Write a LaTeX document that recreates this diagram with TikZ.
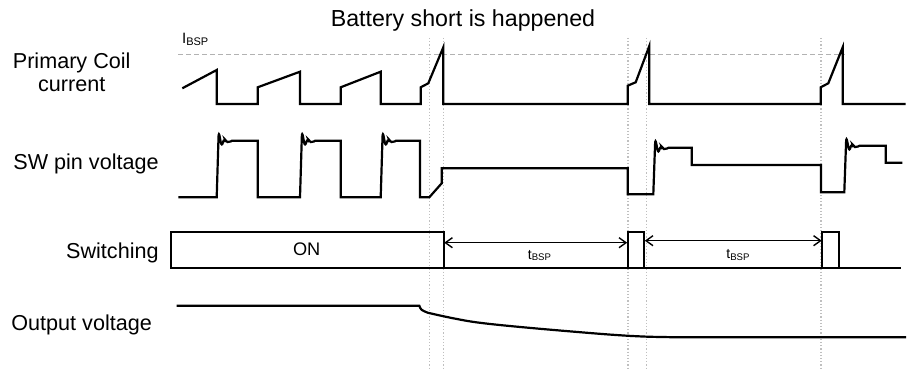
\documentclass[tikz,border=0pt]{standalone}
\usepackage{fontspec}
\setmainfont{Liberation Sans}
\usetikzlibrary{arrows.meta}

\newcommand{\bspsub}[1]{\raisebox{-.8pt}{\fontsize{#1}{#1}\selectfont BSP}}
\newcommand{\ringup}[1]{[rounded corners=2.5pt] -- ++(2,-#1) -- ++(3,16) -- ++(2.5,-10) -- ++(2.5,7) [sharp corners] -- ++(5,-3.5)}

\tikzset{
    wave/.style    = {line width = 1.1pt, line join = miter},
    cursor/.style  = {gray!50, densely dotted, line width = .6pt},
    limit/.style   = {gray!60, dash pattern = on 2.5pt off 1.5pt, line width = .6pt},
    signame/.style = {font = \fontsize{10.8}{11.7}\selectfont, align = center, inner sep = 0pt},
    period/.style  = {{Straight Barb[length=3.5pt,width=5pt]}-{Straight Barb[length=3.5pt,width=5pt]}, line width = .7pt}
}

\begin{document}
\begin{tikzpicture}[x = .5pt, y = -.5pt]
    \useasboundingbox (0,0) rectangle (907,378);

    % Draw the event markers:
    \foreach \xpos in {429.3, 443.7, 628, 646.3, 821}
        \draw [cursor] (\xpos,38) -- (\xpos,370);

    % Title and signal names:
    \node [font = \fontsize{11.6}{13}\selectfont] (title) at (463,21) {Battery short is happened};
    \node [signame] (coil) at (71.7,72) {Primary Coil\\current};
    \node [signame, anchor = west] (sw) at (13,163.5) {SW pin voltage};
    \node [signame, anchor = east] (switching) at (159,252.5) {Switching};
    \node [signame, anchor = west] (vout) at (11,325) {Output voltage};

    % Primary coil current:
    \draw [limit] (178,54.3) -- (845,54.3);
    \node [anchor = base west, inner sep = 0pt, font = \fontsize{7.5}{8}\selectfont] (ibsp) at (181.7,44) {I\bspsub{5.5}};
    \draw [wave] (182.3,88.3) -- (216.7,70) -- (216.7,104) -- (257.7,104) -- (257.7,87.3)
        -- (300,71.7) -- (300,104) -- (340.7,104) -- (340.7,87.3) -- (380.7,71.7) -- (380.7,104)
        -- (420.7,104) -- (420.7,87.3) -- (428.3,83.3) -- (443.3,47.3) -- (443.3,104)
        -- (627.7,104) -- (627.7,85.7) -- (635.7,82.3) -- (649.3,46) -- (649.3,104)
        -- (820.7,104) -- (820.7,87.3) -- (828.3,83.3) -- (842.7,47.3) -- (842.7,104) -- (905.7,104);

    % SW pin voltage:
    \draw [wave] (178.3,197.3) -- (216.7,197.3) \ringup{66} -- (257.7,140.8) -- (257.7,197.3)
        -- (300,197.3) \ringup{66} -- (340.7,140.8) -- (340.7,197.3)
        -- (380.7,197.3) \ringup{66} -- (420,140.8) -- (420,197.3)
        -- (429.3,197.3) -- (441.7,183.3) -- (441.7,168.3) -- (627.7,168.3) -- (627.7,194.3)
        -- (653.3,194.3) \ringup{56} -- (691.7,147.8) -- (691.7,165) -- (821,165) -- (821,192.3)
        -- (844.3,192.3) \ringup{56} -- (885.7,145.8) -- (885.7,162.7) -- (902.3,162.7);

    % Switching:
    \draw [wave] (171,231.7) rectangle (443.7,267.7);
    \node [font = \fontsize{9.1}{10}\selectfont, anchor = base] (on) at (306.7,256) {ON};
    \draw [wave] (443.7,267.7) -- (627.7,267.7);
    \draw [wave] (627.7,231.7) rectangle (644.3,267.7);
    \draw [wave] (644.3,267.7) -- (822.3,267.7);
    \draw [wave] (822.3,231.7) rectangle (839.3,267.7);
    \draw [wave] (839.3,267.7) -- (900.7,267.7);

    \coordinate (off1 start) at (444.2,242.7);
    \coordinate (off1 end)   at (627.2,242.7);
    \coordinate (off2 start) at (644.8,240.7);
    \coordinate (off2 end)   at (821.8,240.7);
    \draw [period] (off1 start) -- (off1 end);
    \draw [period] (off2 start) -- (off2 end);
    \node [anchor = base, font = \fontsize{7}{8}\selectfont] (tbsp1) at (539.5,259.3) {t\bspsub{4.8}};
    \node [anchor = base, font = \fontsize{7}{8}\selectfont] (tbsp2) at (738,258.7) {t\bspsub{4.8}};

    % Output voltage:
    \draw [wave] (176.7,305.7) -- (419.3,305.7) .. controls (421,310) .. (428,312.8)
        -- plot [smooth, tension = .6] coordinates {(428,312.8) (453.3,318.3) (480,322.8) (526.7,327.6) (593.3,333.3) (626.7,335.7) (650,336.8)}
        -- (671.7,337.2) -- (906,337.2);
\end{tikzpicture}
\end{document}
